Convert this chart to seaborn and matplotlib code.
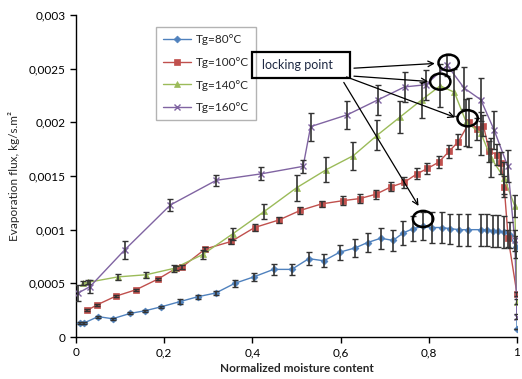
import matplotlib
matplotlib.use("Agg")
import matplotlib.pyplot as plt
from matplotlib.patches import Ellipse, Rectangle
from matplotlib.ticker import FuncFormatter
import seaborn as sns
import pandas as pd

sns.set_style("white")
plt.rcParams['font.family'] = ['Lato', 'DejaVu Sans']

# ============================================================
#                  DATA
# ============================================================
x_80 = [0.008, 0.018, 0.05, 0.083, 0.123, 0.157, 0.192, 0.236, 0.276, 0.317, 0.36, 0.403,
        0.448, 0.489, 0.528, 0.562, 0.598, 0.633, 0.661, 0.691, 0.719, 0.742, 0.765, 0.786,
        0.808, 0.829, 0.848, 0.869, 0.888, 0.918, 0.933, 0.945, 0.958, 0.97, 0.983, 0.998, 1.0]
y_80 = [0.00013, 0.00013, 0.00019, 0.00017, 0.00022, 0.000245, 0.00028, 0.00033, 0.000375, 0.00041, 0.0005, 0.00056,
        0.00063, 0.00063, 0.00073, 0.00071, 0.00079, 0.00083, 0.00088, 0.00092, 0.0009, 0.00097, 0.00101, 0.00103,
        0.00102, 0.00102, 0.00101, 0.001, 0.001, 0.001, 0.001, 0.00099, 0.00099, 0.00098, 0.00095, 0.00084, 0.00007]
e_80 = [0.00001, 0.00001, 0.00001, 0.00001, 0.00001, 0.00001, 0.00001, 0.00002, 0.00002, 0.00002, 0.00003, 0.00004,
        0.00005, 0.00005, 0.00006, 0.00006, 0.00007, 0.00008, 0.00009, 0.0001, 0.0001, 0.00011, 0.00012, 0.00013,
        0.00014, 0.00014, 0.00014, 0.00015, 0.00015, 0.00015, 0.00015, 0.00015, 0.00015, 0.00015, 0.00012, 0.0001, 0.0]

x_100 = [0.026, 0.048, 0.09, 0.136, 0.186, 0.227, 0.24, 0.293, 0.352, 0.405, 0.46, 0.509, 0.557, 0.605, 0.644,
         0.68, 0.715, 0.744, 0.773, 0.797, 0.823, 0.846, 0.867, 0.892, 0.91, 0.924, 0.937, 0.954, 0.964, 0.971, 0.98, 1.0]
y_100 = [0.00025, 0.0003, 0.00038, 0.00044, 0.00054, 0.00064, 0.00065, 0.00082, 0.00089, 0.00102, 0.00109, 0.00118,
         0.00124, 0.00127, 0.00129, 0.00133, 0.0014, 0.00144, 0.00152, 0.00157, 0.00163, 0.00173, 0.00182, 0.002,
         0.00194, 0.00197, 0.00173, 0.0017, 0.00162, 0.0014, 0.00092, 0.0004]
e_100 = [0.00001, 0.00001, 0.00001, 0.00001, 0.00001, 0.00002, 0.00002, 0.00002, 0.00002, 0.00003, 0.00003, 0.00003,
         0.00003, 0.00004, 0.00004, 0.00004, 0.00004, 0.00005, 0.00005, 0.00005, 0.00006, 0.00006, 0.00007, 0.00023,
         0.0001, 0.0001, 0.0001, 0.0001, 0.0001, 0.0001, 0.00008, 0.00002]

x_140 = [0.015, 0.028, 0.095, 0.159, 0.223, 0.288, 0.355, 0.427, 0.5, 0.568, 0.629, 0.683, 0.735, 0.784,
         0.826, 0.858, 0.885, 0.918, 0.941, 0.971, 0.995, 1.0]
y_140 = [0.0005, 0.00051, 0.00056, 0.00058, 0.00064, 0.00077, 0.00096, 0.00117, 0.00139, 0.00156, 0.00169,
         0.00188, 0.00205, 0.00221, 0.00234, 0.00228, 0.002, 0.0019, 0.00167, 0.00148, 0.00122, 0.00033]
e_140 = [0.00002, 0.00002, 0.00003, 0.00003, 0.00003, 0.00004, 0.00006, 0.00007, 0.00012, 0.00012, 0.00013,
         0.00014, 0.00015, 0.00017, 0.0002, 0.00022, 0.00022, 0.0002, 0.00018, 0.00015, 0.0001, 0.00002]

x_160 = [0.005, 0.032, 0.11, 0.214, 0.318, 0.42, 0.515, 0.532, 0.615, 0.685, 0.745, 0.793, 0.842, 0.88,
         0.918, 0.948, 0.979, 0.995, 1.0]
y_160 = [0.00041, 0.00047, 0.00081, 0.00123, 0.00146, 0.00152, 0.00159, 0.00196, 0.00207, 0.00221, 0.00233,
         0.00235, 0.00253, 0.00232, 0.00221, 0.00193, 0.00159, 0.0009, 0.00019]
e_160 = [0.00007, 0.00006, 0.00008, 0.00006, 0.00005, 0.00006, 0.00006, 0.00013, 0.00013, 0.00014, 0.00014,
         0.00014, 0.0001, 0.0002, 0.0002, 0.00018, 0.00015, 0.0001, 0.00002]

labels = ["Tg=80°C", "Tg=100°C", "Tg=140°C", "Tg=160°C"]
colors = ['#4F81BD', '#C0504D', '#9BBB59', '#8064A2']
markers = ['D', 's', '^', 'x']
msizes = [3.5, 5, 5, 5]

x_ticks = [0, 0.2, 0.4, 0.6, 0.8, 1.0]
y_ticks = [0, 0.0005, 0.001, 0.0015, 0.002, 0.0025, 0.003]

series = [(x_80, y_80, e_80), (x_100, y_100, e_100), (x_140, y_140, e_140), (x_160, y_160, e_160)]

# ============================================================
#                  PLOT
# ============================================================
fig = plt.figure(figsize=(5.22, 3.79), dpi=100)
ax = fig.add_axes([76 / 522, 1 - 337 / 379, 441 / 522, 322 / 379])

for i, (xs, ys, es) in enumerate(series):
    df = pd.DataFrame({'x': xs, 'y': ys})
    sns.lineplot(data=df, x='x', y='y', ax=ax, sort=False, estimator=None,
                 color=colors[i], marker=markers[i], markersize=msizes[i],
                 markeredgecolor=colors[i], markeredgewidth=1 if markers[i] == 'x' else 0.5,
                 linewidth=1, label=labels[i], zorder=3)
    ax.errorbar(xs, ys, yerr=es, fmt='none', ecolor='#333333', elinewidth=1.2,
                capsize=2.5, capthick=1, zorder=4)

ax.set_xlim(0, 1)
ax.set_ylim(0, 0.003)
ax.set_xticks(x_ticks)
ax.set_yticks(y_ticks)
comma = FuncFormatter(lambda v, p: ('%g' % v).replace('.', ','))
ax.xaxis.set_major_formatter(comma)
ax.yaxis.set_major_formatter(comma)
ax.tick_params(axis='both', direction='out', length=4, width=1, labelsize=8.5,
               colors='black', bottom=True, left=True)
for s in ['top', 'right']:
    ax.spines[s].set_visible(False)
for s in ['left', 'bottom']:
    ax.spines[s].set_color('black')
    ax.spines[s].set_linewidth(1)

ax.set_xlabel("Normalized moisture content", fontsize=8.5, fontweight='bold', labelpad=3)
ax.set_ylabel("Evaporation flux, kg/s.m²", fontsize=8.5, labelpad=6)

leg = ax.legend(loc='upper left', bbox_to_anchor=(0.181, 0.963), borderaxespad=0,
                fontsize=8.5, frameon=True, fancybox=False, edgecolor='#A0A0A0',
                handlelength=2.4, labelspacing=1.0, borderpad=0.6, handletextpad=0.4)
leg.get_frame().set_linewidth(1)

# locking point annotations
ax.add_patch(Rectangle((0.4, 0.002413), 0.2205, 0.000242, fill=False,
                       edgecolor='black', linewidth=1.6, zorder=6))
ax.text(0.422, 0.002535, "locking point", fontsize=9, color='#1F2A44',
        va='center', ha='left', zorder=7)

arrows = [((0.624, 0.002503), (0.82, 0.00255)),
          ((0.624, 0.002432), (0.805, 0.002379)),
          ((0.6075, 0.002432), (0.865, 0.002038)),
          ((0.604, 0.002394), (0.78, 0.001199))]
for start, end in arrows:
    ax.annotate("", xy=end, xytext=start,
                arrowprops=dict(arrowstyle='->', color='black', lw=0.9), zorder=6)

circles = [(0.845, 0.002556), (0.826, 0.002379), (0.888, 0.002038), (0.787, 0.0011)]
for cx, cy in circles:
    ax.add_patch(Ellipse((cx, cy), 0.046, 0.00015, fill=False, edgecolor='black',
                         linewidth=1.8, zorder=6))

fig.savefig("out.png", dpi=100)
